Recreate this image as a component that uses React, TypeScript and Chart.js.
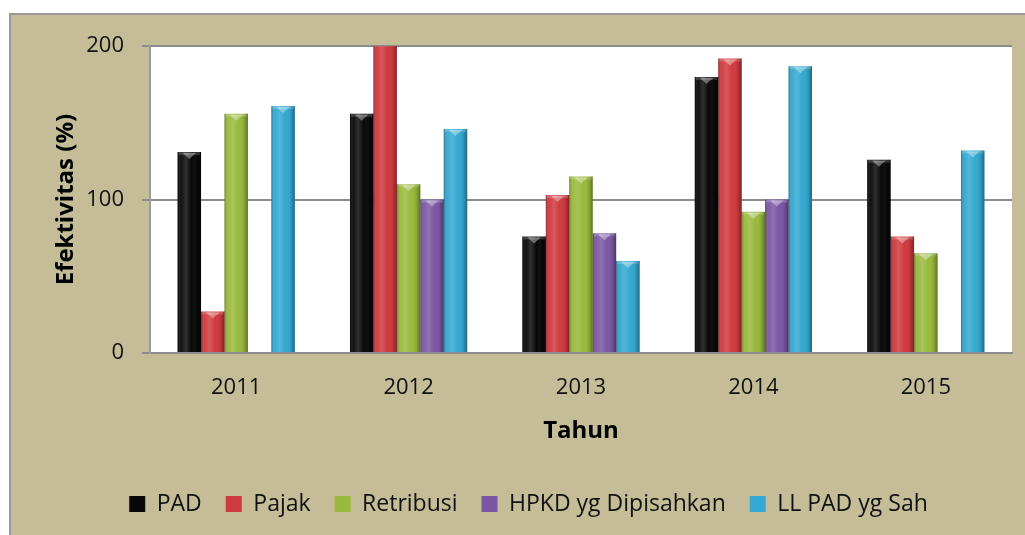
import React, { useEffect, useRef } from 'react';
import { Chart, registerables } from 'chart.js';

Chart.register(...registerables);

const years = ['2011', '2012', '2013', '2014', '2015'];
const seriesNames = ['PAD', 'Pajak', 'Retribusi', 'HPKD yg Dipisahkan', 'LL PAD yg Sah'];
const padValues = [131, 156, 76, 180, 126];
const pajakValues = [27, 210, 103, 192, 76];
const retribusiValues = [156, 110, 115, 92, 65];
const hpkdValues: (number | null)[] = [null, 100, 78, 100, null];
const llPadValues = [161, 146, 60, 187, 132];
const seriesColors = ['#080808', '#d0393d', '#98b93c', '#7b56a4', '#33a8d0'];
const yTickValues = [0, 100, 200];

const FONT = '"Open Sans", "Noto Sans", sans-serif';
const BG = '#c4bd98';

const plotBackground = {
  id: 'plotBackground',
  beforeDraw(chart: any) {
    const { ctx, chartArea } = chart;
    ctx.save();
    ctx.fillStyle = '#ffffff';
    ctx.fillRect(chartArea.left, chartArea.top, chartArea.right - chartArea.left, chartArea.bottom - chartArea.top);
    ctx.restore();
  },
};

const barShade = {
  id: 'barShade',
  afterDatasetsDraw(chart: any) {
    const { ctx, chartArea } = chart;
    ctx.save();
    ctx.beginPath();
    ctx.rect(chartArea.left, chartArea.top, chartArea.right - chartArea.left, chartArea.bottom - chartArea.top);
    ctx.clip();
    chart.data.datasets.forEach((_ds: any, di: number) => {
      const meta = chart.getDatasetMeta(di);
      meta.data.forEach((el: any) => {
        const { x, y, base, width } = el.getProps(['x', 'y', 'base', 'width'], true);
        if (!isFinite(y) || !isFinite(base) || base - y < 1) return;
        const l = x - width / 2;
        const r = x + width / 2;
        const g = ctx.createLinearGradient(l, 0, r, 0);
        g.addColorStop(0, 'rgba(0,0,0,0.30)');
        g.addColorStop(0.15, 'rgba(255,255,255,0.04)');
        g.addColorStop(0.35, 'rgba(255,255,255,0.16)');
        g.addColorStop(0.6, 'rgba(255,255,255,0.0)');
        g.addColorStop(0.85, 'rgba(0,0,0,0.12)');
        g.addColorStop(1, 'rgba(0,0,0,0.38)');
        ctx.fillStyle = g;
        ctx.fillRect(l, y, width, base - y);
        // top cap
        ctx.fillStyle = 'rgba(255,255,255,0.18)';
        ctx.fillRect(l + 1, y, width - 2, 3);
        ctx.beginPath();
        ctx.moveTo(l + width * 0.22, y + 1);
        ctx.lineTo(r - width * 0.22, y + 1);
        ctx.lineTo(x, y + 7);
        ctx.closePath();
        ctx.fillStyle = 'rgba(255,255,255,0.35)';
        ctx.fill();
      });
    });
    ctx.restore();
  },
};

export default function App() {
  const canvasRef = useRef<HTMLCanvasElement | null>(null);

  useEffect(() => {
    document.body.style.overflow = 'hidden';
    const canvas = canvasRef.current;
    if (!canvas) return;
    const allValues = [padValues, pajakValues, retribusiValues, hpkdValues, llPadValues];
    const chart = new Chart(canvas, {
      type: 'bar',
      data: {
        labels: years,
        datasets: allValues.map((vals, i) => ({
          label: seriesNames[i],
          data: vals as any,
          backgroundColor: seriesColors[i],
          borderWidth: 0,
          categoryPercentage: 0.68,
          barPercentage: 1.0,
          clip: 0,
        })),
      },
      options: {
        animation: false,
        responsive: false,
        maintainAspectRatio: false,
        layout: { padding: { left: 34, right: 13, top: 28, bottom: 9.5 } },
        plugins: {
          legend: {
            position: 'bottom',
            labels: {
              font: { family: FONT, size: 23 },
              color: '#111111',
              boxWidth: 16,
              boxHeight: 16,
              padding: 24,
            },
          },
          tooltip: { enabled: false },
        },
        scales: {
          x: {
            grid: { display: false, drawTicks: false },
            border: { display: true, color: '#8c8c8c', width: 2 },
            ticks: { font: { family: FONT, size: 22 }, color: '#111111', padding: 22 },
            title: {
              display: true,
              text: 'Tahun',
              font: { family: FONT, size: 24, weight: 'bold' },
              color: '#000000',
              padding: { top: 0, bottom: 23 },
            },
            afterFit: (s: any) => {
              s.height = 115.5;
            },
          },
          y: {
            min: 0,
            max: 200,
            afterBuildTicks: (s: any) => {
              s.ticks = yTickValues.map((v) => ({ value: v }));
            },
            grid: { color: '#8c8c8c', lineWidth: 2, tickLength: 8, drawTicks: true },
            border: { display: true, color: '#9a9a9a', width: 2 },
            ticks: { font: { family: FONT, size: 22 }, color: '#111111', padding: 18 },
            title: {
              display: true,
              text: 'Efektivitas (%)',
              font: { family: FONT, size: 24, weight: 'bold' },
              color: '#000000',
              padding: { top: 7, bottom: 0 },
            },
            afterFit: (s: any) => {
              s.width = 105;
            },
          },
        },
      },
      plugins: [plotBackground, barShade],
    });
    return () => chart.destroy();
  }, []);

  return (
    <div
      style={{
        position: 'absolute',
        left: 9,
        top: 13,
        width: 1016,
        height: 522,
        background: BG,
        borderTop: '2px solid #9a9a9a',
        borderLeft: '2px solid #9a9a9a',
        boxSizing: 'border-box',
      }}
    >
      <canvas ref={canvasRef} width={1014} height={520} style={{ display: 'block' }} />
    </div>
  );
}
